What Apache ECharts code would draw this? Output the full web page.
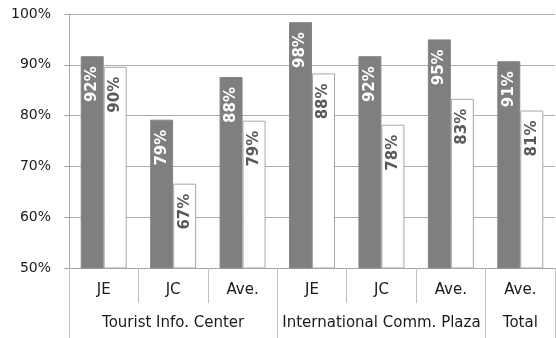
<!DOCTYPE html>
<html>
<head>
<meta charset="utf-8">
<script src="https://cdn.jsdelivr.net/npm/echarts@6/dist/echarts.min.js"></script>
<style>
  html, body { margin: 0; padding: 0; background: #fff; }
  #chart { width: 556px; height: 338px; }
</style>
</head>
<body>
<div id="chart"></div>
<script>
// categories
var subCats = ['JE', 'JC', 'Ave.', 'JE', 'JC', 'Ave.', 'Ave.'];
var groupLabels = ['', 'Tourist Info. Center', '', '', 'International Comm. Plaza', '', 'Total'];
var groupStarts = [0, 3, 6];
// values (percent)
var darkValues = [91.7, 79.2, 87.6, 98.4, 91.7, 95.0, 90.7];
var whiteValues = [89.6, 66.6, 79.0, 88.3, 78.2, 83.3, 81.0];
var yTicks = [50, 60, 70, 80, 90, 100];

var font = 'DejaVu Sans, Verdana, sans-serif';

var chart = echarts.init(document.getElementById('chart'));

function pctLabel(p) { return Math.round(p.value) + '%'; }

var option = {
  animation: false,
  grid: { left: 69, right: 1, top: 14, bottom: 70 },
  xAxis: [{
    type: 'category',
    data: subCats,
    boundaryGap: true,
    axisLine: { lineStyle: { color: '#a6a6a6' } },
    axisTick: { show: true, interval: 0, length: 35, lineStyle: { color: '#bfbfbf' } },
    axisLabel: { interval: 0, margin: 15, color: '#1a1a1a', fontSize: 15, fontFamily: font }
  }, {
    type: 'category',
    data: groupLabels,
    position: 'bottom',
    boundaryGap: true,
    axisLine: { show: false },
    axisTick: {
      show: true, length: 70, lineStyle: { color: '#bfbfbf' },
      interval: function (i) { return groupStarts.indexOf(i) >= 0; }
    },
    axisLabel: { interval: 0, margin: 48, color: '#1a1a1a', fontSize: 15, fontFamily: font }
  }],
  yAxis: {
    type: 'value',
    min: yTicks[0],
    max: yTicks[yTicks.length - 1],
    interval: 10,
    axisLine: { show: true, lineStyle: { color: '#a6a6a6' } },
    axisTick: { show: true, length: 5, lineStyle: { color: '#a6a6a6' } },
    axisLabel: { formatter: '{value}%', margin: 18, color: '#1a1a1a', fontSize: 14, fontFamily: font },
    splitLine: { lineStyle: { color: '#adadad' } }
  },
  series: [{
    type: 'bar',
    data: darkValues,
    barWidth: 23,
    barGap: '0%',
    itemStyle: { color: '#7f7f7f', borderColor: '#868686', borderWidth: 1 },
    label: {
      show: true, position: 'insideTop', distance: 10, rotate: 90,
      align: 'right', verticalAlign: 'middle',
      formatter: pctLabel, color: '#fff', fontWeight: 'bold', fontSize: 15, fontFamily: font
    }
  }, {
    type: 'bar',
    data: whiteValues,
    barWidth: 23,
    itemStyle: { color: '#ffffff', borderColor: '#a6a6a6', borderWidth: 1 },
    label: {
      show: true, position: 'insideTop', distance: 10, rotate: 90,
      align: 'right', verticalAlign: 'middle',
      formatter: pctLabel, color: '#595959', fontWeight: 'bold', fontSize: 15, fontFamily: font
    }
  }]
};

chart.setOption(option);
</script>
</body>
</html>
